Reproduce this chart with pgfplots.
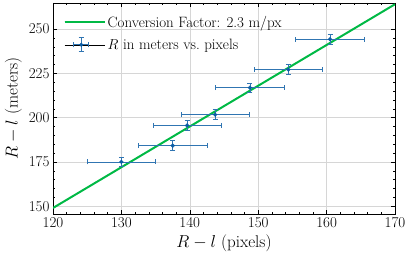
\documentclass[border=0pt]{standalone}
\usepackage{fontspec}
\usepackage{pgfplots}
\pgfplotsset{compat=1.18}
\definecolor{sblue}{HTML}{0C5DA5}
\definecolor{sgreen}{HTML}{00B945}
\begin{document}
\begin{tikzpicture}
\begin{axis}[
  scale only axis, width=342pt, height=211pt,
  xmin=120, xmax=170, ymin=145.6, ymax=264.7,
  xtick={120,130,...,170}, ytick={150,175,...,250},
  minor x tick num=4, minor y tick num=4,
  tick align=inside, tick pos=both,
  major tick length=4pt, minor tick length=2pt,
  every tick/.style={black, line width=0.5pt},
  axis line style={line width=0.6pt},
  grid=major, grid style={black!16, line width=0.6pt},
  /pgf/number format/assume math mode=true,
  ticklabel style={font=\fontsize{15}{15}\selectfont},
  label style={font=\fontsize{17}{17}\selectfont},
  xlabel={$R-l$ (pixels)}, ylabel={$R-l$ (meters)},
  legend style={at={(0.022,0.958)}, anchor=north west, draw=none, fill=none,
    font=\fontsize{15}{15}\selectfont, row sep=6pt},
  legend cell align=left,
]
\addplot[sgreen, line width=2pt,
  legend image code/.code={\path (0pt,0pt) -- (40pt,0pt);
    \draw[sgreen, line width=2pt] (0pt,0pt) -- (33pt,0pt);}]
  coordinates {(120,149) (170,264)};
\addlegendentry{Conversion Factor: 2.3 m/px}
\addplot[sblue, only marks, mark=*, mark size=1.9pt, forget plot,
  error bars/.cd, x dir=both, x explicit, y dir=both, y explicit,
  error bar style={sblue!85, line width=0.7pt},
  error mark options={rotate=90, sblue!85, mark size=2.5pt, line width=0.7pt},
  ] coordinates {
  (130.0,175.0) +- (5,2.7)
  (137.5,184.2) +- (5,2.7)
  (139.6,195.6) +- (5,2.7)
  (143.7,201.7) +- (5,2.7)
  (148.8,216.9) +- (5,2.7)
  (154.4,227.1) +- (5,2.7)
  (160.5,244.2) +- (5,2.7)
};
\addlegendimage{legend image code/.code={
  \path (0pt,0pt) -- (40pt,0pt);
  \draw[sblue!85, line width=0.7pt] (9pt,0pt) -- (24pt,0pt);
  \draw[sblue!85, line width=0.7pt] (9pt,-2.5pt) -- (9pt,2.5pt);
  \draw[sblue!85, line width=0.7pt] (24pt,-2.5pt) -- (24pt,2.5pt);
  \draw[sblue!85, line width=0.7pt] (16.5pt,-7pt) -- (16.5pt,7pt);
  \draw[sblue!85, line width=0.7pt] (14pt,-7pt) -- (19pt,-7pt);
  \draw[sblue!85, line width=0.7pt] (14pt,7pt) -- (19pt,7pt);
  \fill[sblue] (16.5pt,0pt) circle (1.9pt);
}}
\addlegendentry{$R$ in meters vs.\ pixels}
\end{axis}
\pgfresetboundingbox
\path[use as bounding box] ([xshift=-53pt,yshift=-45pt]current axis.south west) rectangle ([xshift=15pt,yshift=3pt]current axis.north east);
\end{tikzpicture}
\end{document}
